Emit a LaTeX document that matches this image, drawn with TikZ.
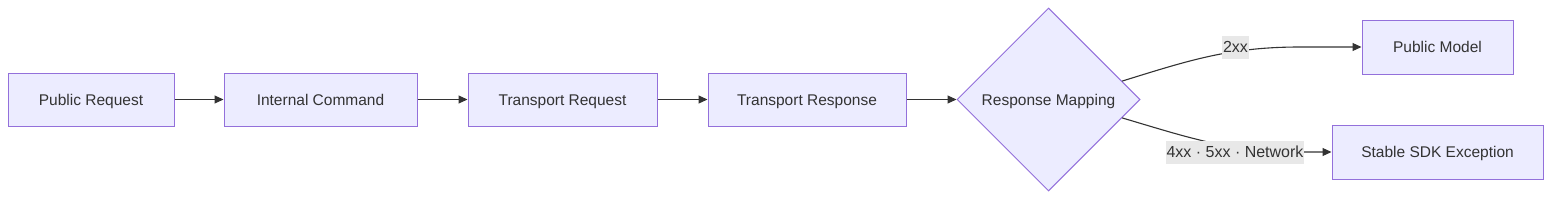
\documentclass[tikz,border=0pt]{standalone}
\usepackage{fontspec}
\setmainfont{Liberation Sans}
\usetikzlibrary{shapes.geometric,arrows.meta,calc}
\definecolor{nodefill}{HTML}{ECECFF}
\definecolor{nodeline}{HTML}{9370DB}
\definecolor{edgecol}{HTML}{333333}
\definecolor{lblbg}{HTML}{E8E8E8}
\tikzset{
  box/.style={draw=nodeline, fill=nodefill, line width=1pt, minimum height=53pt, inner sep=0pt, font=\fontsize{15.5}{18}\selectfont, text=edgecol, text height=13pt, text depth=2pt},
  decision/.style={diamond, aspect=1, draw=nodeline, fill=nodefill, line width=1pt, minimum width=183pt, minimum height=183pt, inner sep=0pt, font=\fontsize{15.5}{18}\selectfont, text=edgecol, text height=13pt, text depth=2pt},
  conn/.style={draw=edgecol, line width=1.1pt, -{Triangle[length=9pt,width=8pt]}},
  elabel/.style={fill=lblbg, inner sep=1pt, font=\fontsize{16}{18}\selectfont, text=edgecol, text height=13pt, text depth=2pt, minimum height=23pt}
}
\begin{document}
\begin{tikzpicture}[x=1pt,y=-1pt]
\useasboundingbox (0,0) rectangle (1568,204);
\node[box, minimum width=166pt] (pr) at (91,99.5) {Public Request};
\node[box, minimum width=193pt] (ic) at (320.5,99.5) {Internal Command};
\node[box, minimum width=189pt] (tq) at (562.5,99.5) {Transport Request};
\node[box, minimum width=198pt] (ts) at (807,99.5) {Transport Response};
\node[decision] (rm) at (1048.5,99.5) {Response Mapping};
\node[box, minimum width=151pt, minimum height=54pt] (pm) at (1437.5,47) {Public Model};
\node[box, minimum width=211pt, minimum height=54pt] (se) at (1437.5,152) {Stable SDK Exception};
\draw[conn] (pr) -- (ic);
\draw[conn] (ic) -- (tq);
\draw[conn] (tq) -- (ts);
\draw[conn] (ts) -- (rm);
\coordinate (rmu) at ($(rm.east)!0.2!(rm.north)$);
\coordinate (rmd) at ($(rm.east)!0.2!(rm.south)$);
\coordinate (ku) at (1300,47);
\coordinate (kd) at (1300,152);
\draw[conn] (rmu) .. controls (1190,60) and (1230,47) .. (ku) -- (pm.west);
\draw[conn] (rmd) .. controls (1190,138) and (1230,152) .. (kd) -- (se.west);
\node[elabel] (l1) at (1235.5,47) {2xx};
\node[elabel] (l2) at (1235,152) {4xx · 5xx · Network};
\end{tikzpicture}
\end{document}
